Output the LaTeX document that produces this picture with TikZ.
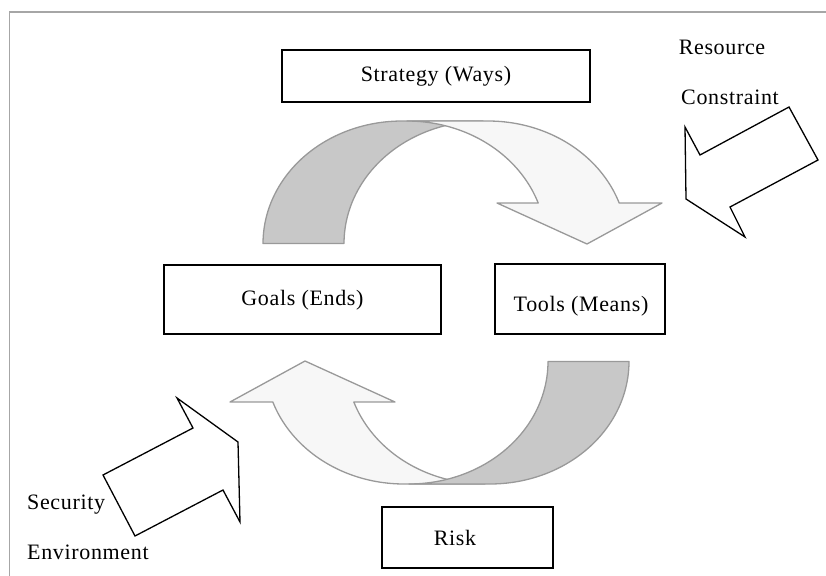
\documentclass[tikz,border=0pt]{standalone}
\usepackage{fontspec}
\setmainfont{Liberation Serif}[LetterSpace=3]
\definecolor{bandgray}{HTML}{C8C8C8}
\definecolor{bandlight}{HTML}{F7F7F7}
\definecolor{edgegray}{HTML}{999999}
\definecolor{framegray}{HTML}{A6A6A6}
\begin{document}
\begin{tikzpicture}[x=1pt,y=-1pt,
  box/.style={draw=black, line width=1.5pt, fill=white, inner sep=0pt},
  lbl/.style={font=\fontsize{22}{26}\selectfont, inner sep=0pt},
  backband/.style={fill=bandgray, draw=edgegray, line width=1.3pt, line join=round},
  frontband/.style={fill=bandlight, draw=edgegray, line width=1.3pt, line join=round},
  blockarrow/.style={draw=black, fill=white, line width=1.3pt, line join=miter}]
\useasboundingbox (0,0) rectangle (826,575);
% frame
\draw[framegray, line width=1.5pt] (9.5,580) -- (9.5,12) -- (830,12);

% boxes
\node[box, minimum width=308pt, minimum height=52pt] (strategy) at (436,76) {};
\node[lbl] (strategytext) at (436,76) {Strategy (Ways)};
\node[box, minimum width=277pt, minimum height=69pt] (goals) at (302.5,299.5) {};
\node[lbl] (goalstext) at (302.5,300) {Goals (Ends)};
\node[box, minimum width=170pt, minimum height=70pt] (tools) at (580,299) {};
\node[lbl] (toolstext) at (581,306) {Tools (Means)};
\node[box, minimum width=171pt, minimum height=61pt] (risk) at (467.5,537.5) {};
\node[lbl] (risktext) at (455,538) {Risk};

% top curved arrow
\path[backband] plot[domain=180:90, samples=50] ({402+139*cos(\x)}, {243.5-122.5*sin(\x)})
  -- plot[domain=90:180, samples=50] ({483+139*cos(\x)}, {243.5-122.5*sin(\x)}) -- cycle;
\path[frontband] plot[domain=90:19.3, samples=50] ({488+139*cos(\x)}, {243.5-122.5*sin(\x)})
  -- (662,203) -- (587,244) -- (497,203)
  -- plot[domain=19.3:90, samples=50] ({407+139*cos(\x)}, {243.5-122.5*sin(\x)}) -- cycle;

% bottom curved arrow (rotated copy)
\begin{scope}[rotate around={180:(446,302.5)}]
\path[frontband] plot[domain=90:19.3, samples=50] ({488+139*cos(\x)}, {243.5-122.5*sin(\x)})
  -- (662,203) -- (587,244) -- (497,203)
  -- plot[domain=19.3:90, samples=50] ({407+139*cos(\x)}, {243.5-122.5*sin(\x)}) -- cycle;
\path[backband] plot[domain=180:90, samples=50] ({402+139*cos(\x)}, {243.5-122.5*sin(\x)})
  -- plot[domain=90:180, samples=50] ({483+139*cos(\x)}, {243.5-122.5*sin(\x)}) -- cycle;
\end{scope}

% resource constraint arrow
\path[blockarrow] (789,107) -- (818,160) -- (730,207) -- (745,237) -- (686,199) -- (685,127) -- (700,155) -- cycle;
\node[lbl] (resource) at (722,47) {Resource};
\node[lbl] (constraint) at (730,97) {Constraint};

% security environment arrow
\path[blockarrow] (177,398) -- (238,442) -- (240,522) -- (223,490) -- (135,536) -- (103,475) -- (193,428) -- cycle;
\node[lbl, anchor=west] (security) at (27,505) {Security};
\node[lbl, anchor=west] (environment) at (27,552) {Environment};
\end{tikzpicture}
\end{document}
